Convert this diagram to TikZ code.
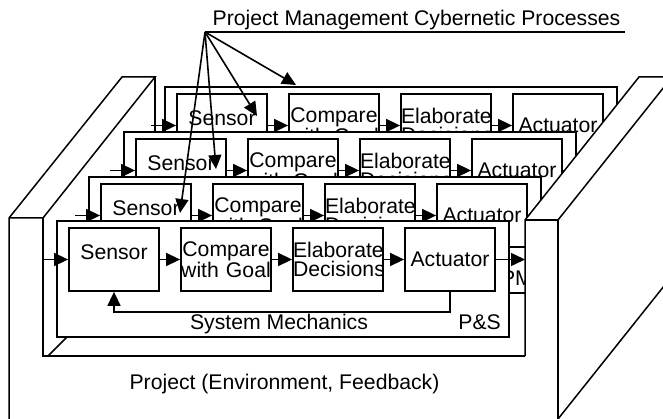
\documentclass[tikz,border=0pt]{standalone}
\usepackage{fontspec}
\setmainfont{Liberation Sans}
\usetikzlibrary{arrows.meta}
\begin{document}
\begin{tikzpicture}[x=1pt, y=-1pt,
    font=\fontsize{21.2}{19}\selectfont,
    layerframe/.style ={draw, fill=white, line width=1.8pt, minimum width=452pt, minimum height=116pt, inner sep=0pt},
    stage/.style ={draw, fill=white, line width=1.8pt, text width=90pt, minimum height=63pt, inner sep=0pt, align=center},
    flow/.style ={line width=1.6pt, -{Triangle[length=14pt, width=13pt]}},
    wall/.style ={line width=1.5pt}]
   \useasboundingbox (0,0) rectangle (663,419);
   \fill[white] (0,0) rectangle (663,419);
   \clip (0,0) rectangle (663,419);

   \node[anchor=base] (title) at (416.5,25.5) {Project Management Cybernetic Processes};
   \coordinate (hub) at (205,32);
   \coordinate (ulend) at (625,32);
   \draw[line width=1.5pt] (hub) -- (ulend);

   % left wall and floor
   \draw[wall] (9,419) -- (9,218) -- (122,77) -- (155,77) -- (43,218) -- (9,218);
   \draw[wall] (155,77) -- (155,160);
   \draw[wall] (43,218) -- (43,356) -- (525,356);
   \draw[wall] (48,356) -- (70,334);

   % process layers, back to front
   \foreach \i/\bx/\by/\tag in {3/177/94/{}, 2/136/139/{}, 1/101/184/PM, 0/69/228/P\&S}{
     \begin{scope}[shift={(\bx,\by)}]
       \node[layerframe] (f\i) at (214,51) {};
       \node[stage] (s\i) at (45,31.5) {\raisebox{7pt}[\height][\depth]{Sensor}};
       \node[stage] (c\i) at (157,31.5) {Compare\\with Goal};
       \node[stage] (e\i) at (269,31.5) {Elaborate\\Decisions};
       \node[stage] (a\i) at (381,31.5) {Actuator};
       \node[anchor=base east, inner sep=0pt] (t\i) at (432,101.5) {\tag};
       \coordinate (in\i) at (-26,31.5);
       \coordinate (out\i) at (456,31.5);
       \draw[flow] (in\i) -- (s\i);
       \draw[flow] (s\i) -- (c\i);
       \draw[flow] (c\i) -- (e\i);
       \draw[flow] (e\i) -- (a\i);
       \draw[flow] (a\i) -- (out\i);
     \end{scope}
   }

   \draw[flow] (a0.south) -- ++(0,20) -| (s0.south);
   \node[anchor=base] (mech) at (279,329.5) {System Mechanics};

   % right wall
   \fill[white] (525,220) -- (639,77) -- (672,77) -- (672,419) -- (525,419) -- cycle;
   \draw[wall] (525,356) -- (525,220) -- (639,77) -- (672,77);
   \draw[wall] (525,220) -- (558,220) -- (558,419);
   \draw[wall] (558,220) -- (672,77);
   \draw[wall] (558,419) -- (672,276);

   \node[anchor=base] (env) at (284.5,389.5) {Project (Environment, Feedback)};

   \coordinate (tipA) at (296,85);
   \coordinate (tipB) at (257,116);
   \coordinate (tipC) at (216,169);
   \coordinate (tipD) at (180,213);
   \foreach \t in {tipA,tipB,tipC,tipD}
     \draw[flow] (hub) -- (\t);
\end{tikzpicture}
\end{document}
